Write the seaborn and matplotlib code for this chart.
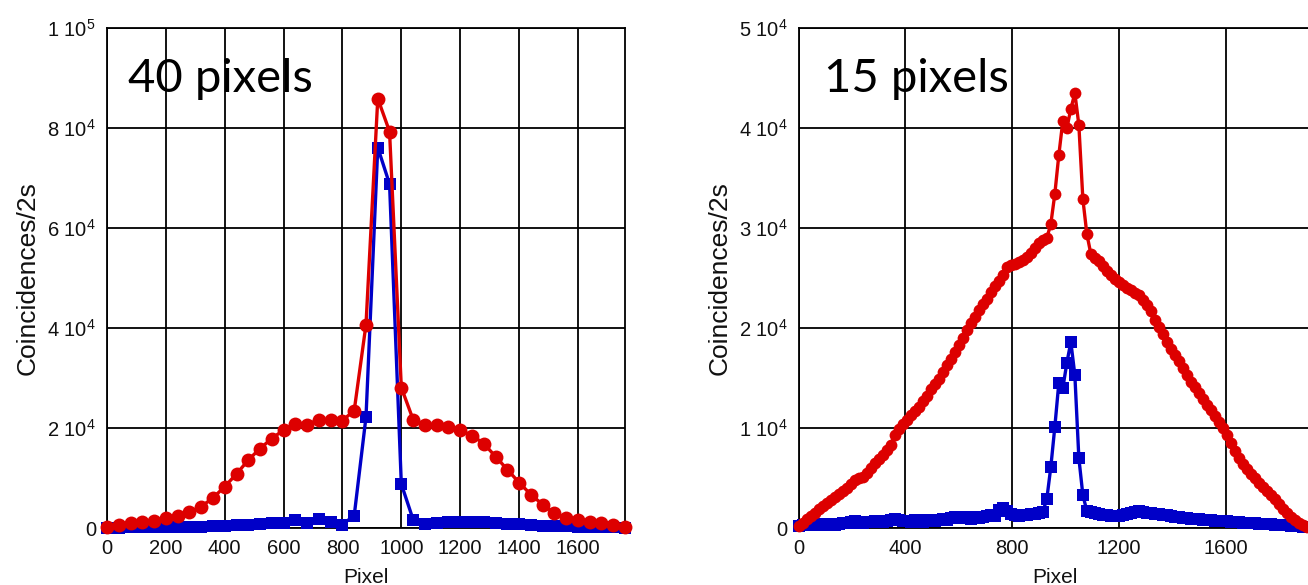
import numpy as np
import pandas as pd
import matplotlib
matplotlib.use("Agg")
import matplotlib.pyplot as plt
import seaborn as sns

# ---------------- data ----------------
# Left panel: "40 pixels" step
pixel_40 = list(range(0, 1761, 40))
red_40 = [300, 700, 1100, 1300, 1500, 2100, 2500, 3200, 4300, 6000,
          8300, 10800, 13600, 15900, 17900, 19600, 20800, 20700, 21700, 21700,
          21500, 23500, 40700, 85900, 79300, 28100, 21700, 20700, 20700, 20300,
          19600, 18500, 16900, 14300, 11700, 9100, 6700, 4700, 3000, 2100,
          1700, 1300, 1000, 700, 300]
blue_40 = [100, 100, 200, 200, 200, 300, 300, 300, 300, 400,
           500, 600, 700, 900, 1000, 1100, 1700, 1000, 1900, 1200,
           700, 2500, 22200, 76100, 68800, 8800, 1700, 800, 1100, 1300,
           1300, 1200, 1200, 1000, 900, 800, 600, 500, 500, 400,
           300, 300, 200, 200, 100]

# Right panel: "15 pixels" step
pixel_15 = list(range(0, 1906, 15))
red_15 = [200, 500, 900, 1200, 1500, 1900, 2200, 2500, 2800, 3100,
          3400, 3700, 4000, 4400, 4800, 5000, 5100, 5500, 6000, 6500,
          6900, 7300, 7800, 8300, 9300, 9900, 10400, 10800, 11300, 11700,
          12100, 12700, 13200, 13900, 14400, 14900, 15600, 16300, 16900, 17600,
          18300, 19000, 19800, 20500, 21100, 21800, 22400, 22900, 23600, 24200,
          24700, 25300, 26100, 26300, 26400, 26600, 26800, 27100, 27500, 28000,
          28500, 28800, 29000, 30400, 33400, 37300, 40700, 40000, 41900, 43500,
          40300, 32900, 29400, 27400, 27000, 26700, 26200, 25700, 25300, 24900,
          24600, 24300, 24000, 23800, 23500, 23300, 22800, 22300, 21700, 20800,
          20100, 19400, 18600, 17900, 17300, 16700, 16000, 15300, 14600, 14100,
          13500, 12900, 12300, 11800, 11200, 10600, 10000, 9300, 8500, 7700,
          7000, 6400, 5900, 5400, 5000, 4500, 4100, 3700, 3300, 2900,
          2400, 1900, 1500, 1100, 800, 500, 300, 100]
blue_15 = [200, 300, 300, 300, 300, 400, 300, 400, 400, 300,
           400, 500, 500, 600, 700, 500, 500, 600, 600, 700,
           600, 600, 700, 800, 900, 800, 700, 700, 600, 800,
           700, 600, 800, 700, 700, 800, 900, 800, 1000, 1100,
           1000, 1100, 1000, 900, 1100, 1000, 1100, 1200, 1300, 1200,
           1800, 2000, 1700, 1400, 1300, 1200, 1300, 1300, 1400, 1400,
           1500, 1600, 2900, 6100, 10100, 14500, 14000, 16500, 18600, 15300,
           7000, 3300, 1700, 1600, 1500, 1400, 1300, 1300, 1200, 1200,
           1200, 1300, 1400, 1500, 1600, 1700, 1600, 1500, 1500, 1400,
           1400, 1300, 1300, 1200, 1100, 1100, 1000, 1000, 900, 900,
           900, 800, 800, 800, 700, 700, 700, 700, 600, 600,
           600, 500, 500, 500, 500, 400, 400, 400, 400, 300,
           300, 300, 300, 200, 200, 200, 100, 100]

panel_labels = ["40 pixels", "15 pixels"]
left_yticks = [0, 20000, 40000, 60000, 80000, 100000]
left_yticklabels = ["0", r"2 10$^{4}$", r"4 10$^{4}$", r"6 10$^{4}$", r"8 10$^{4}$", r"1 10$^{5}$"]
left_xticks = [0, 200, 400, 600, 800, 1000, 1200, 1400, 1600]
right_yticks = [0, 10000, 20000, 30000, 40000, 50000]
right_yticklabels = ["0", r"1 10$^{4}$", r"2 10$^{4}$", r"3 10$^{4}$", r"4 10$^{4}$", r"5 10$^{4}$"]
right_xticks = [0, 400, 800, 1200, 1600]

# ---------------- style ----------------
sns.set_style("white")
plt.rcParams["font.family"] = ["Liberation Sans", "DejaVu Sans"]
plt.rcParams["mathtext.default"] = "regular"

RED = "#dd0000"
BLUE = "#0000c8"

fig = plt.figure(figsize=(13.08, 5.85), dpi=100)
W, H = 1308.0, 585.0
ax1 = fig.add_axes([107 / W, 1 - 528 / H, 518 / W, 500 / H])
ax2 = fig.add_axes([798.5 / W, 1 - 528 / H, (1920 * 0.267) / W, 500 / H])

df40 = pd.DataFrame({"Pixel": pixel_40, "red": red_40, "blue": blue_40})
df15 = pd.DataFrame({"Pixel": pixel_15, "red": red_15, "blue": blue_15})


def draw(ax, df, msize_r, msize_b, lw):
    sns.lineplot(data=df, x="Pixel", y="blue", ax=ax, color=BLUE, marker="s",
                 markersize=msize_b, markeredgewidth=0, linewidth=lw,
                 clip_on=False, zorder=3)
    sns.lineplot(data=df, x="Pixel", y="red", ax=ax, color=RED, marker="o",
                 markersize=msize_r, markeredgewidth=0, linewidth=lw,
                 clip_on=False, zorder=4)


draw(ax1, df40, 10.0, 9.0, 2.4)
draw(ax2, df15, 8.5, 8.5, 2.4)

for ax in (ax1, ax2):
    ax.grid(True, color="black", linewidth=1.3)
    ax.set_axisbelow(True)
    for s in ax.spines.values():
        s.set_color("black")
        s.set_linewidth(1.3)
        s.set_visible(True)
    ax.tick_params(axis="both", length=0, labelsize=14.5, colors="#111111")
    ax.tick_params(axis="y", pad=8)
    ax.tick_params(axis="x", pad=8)
    ax.set_xlabel("Pixel", fontsize=15, labelpad=7, color="#111111")
    ax.set_ylabel("Coincidences/2s", fontsize=19, labelpad=5, color="#111111")

ax1.set_xlim(0, 1760)
ax1.set_ylim(0, 100000)
ax1.set_xticks(left_xticks)
ax1.set_yticks(left_yticks)
ax1.set_yticklabels(left_yticklabels)

ax2.set_xlim(0, 1920)
ax2.set_ylim(0, 50000)
ax2.set_xticks(right_xticks)
ax2.set_yticks(right_yticks)
ax2.set_yticklabels(right_yticklabels)

ax1.text(0.040, 0.871, panel_labels[0], transform=ax1.transAxes,
         fontsize=34, family=["Lato", "DejaVu Sans"], color="black",
         ha="left", va="baseline", zorder=5)
ax2.text(0.050, 0.872, panel_labels[1], transform=ax2.transAxes,
         fontsize=34, family=["Lato", "DejaVu Sans"], color="black",
         ha="left", va="baseline", zorder=5)

fig.savefig("out.png", dpi=100)
